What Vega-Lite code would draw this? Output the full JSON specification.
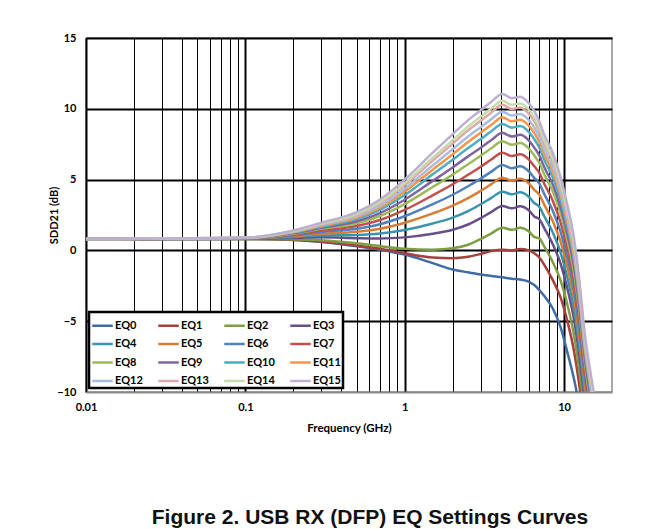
{
"$schema": "https://vega.github.io/schema/vega-lite/v6.json",
"width": 526, "height": 354,
"autosize": {"type": "none"},
"padding": {"left": 86, "top": 38, "right": 57, "bottom": 137},
"background": "white",
"config": {"view": {"stroke": "#8c8c8c", "strokeWidth": 1.5}, "font": "Lato"},
"title": {"text": "Figure 2. USB RX (DFP) EQ Settings Curves", "orient": "bottom", "font": "Liberation Sans", "fontSize": 21, "fontWeight": "bold", "color": "#111111", "offset": 73, "dx": 21, "anchor": "middle"},
"data": {"values": [
{"s":"EQ0","f":0.01,"v":0.8},{"s":"EQ0","f":0.1,"v":0.8},{"s":"EQ0","f":0.2,"v":0.74},{"s":"EQ0","f":0.3,"v":0.6},{"s":"EQ0","f":0.5,"v":0.3},{"s":"EQ0","f":0.7,"v":0.05},{"s":"EQ0","f":1,"v":-0.3},{"s":"EQ0","f":1.5,"v":-0.9},{"s":"EQ0","f":2,"v":-1.35},{"s":"EQ0","f":2.5,"v":-1.55},{"s":"EQ0","f":3,"v":-1.7},{"s":"EQ0","f":3.5,"v":-1.8},{"s":"EQ0","f":4.1,"v":-1.9},{"s":"EQ0","f":4.7,"v":-2.0},{"s":"EQ0","f":5.3,"v":-2.05},{"s":"EQ0","f":6,"v":-2.2},{"s":"EQ0","f":6.5,"v":-2.45},{"s":"EQ0","f":7,"v":-2.8},{"s":"EQ0","f":7.5,"v":-3.2},{"s":"EQ0","f":8.5,"v":-4.1},{"s":"EQ0","f":9.5,"v":-5.4},{"s":"EQ0","f":10.5,"v":-7.2},{"s":"EQ0","f":11.5,"v":-9.0},{"s":"EQ0","f":12.5,"v":-11},
{"s":"EQ1","f":0.01,"v":0.8},{"s":"EQ1","f":0.1,"v":0.8},{"s":"EQ1","f":0.2,"v":0.76},{"s":"EQ1","f":0.3,"v":0.62},{"s":"EQ1","f":0.5,"v":0.35},{"s":"EQ1","f":0.7,"v":0.12},{"s":"EQ1","f":1,"v":-0.2},{"s":"EQ1","f":1.5,"v":-0.5},{"s":"EQ1","f":2,"v":-0.55},{"s":"EQ1","f":2.5,"v":-0.45},{"s":"EQ1","f":3,"v":-0.25},{"s":"EQ1","f":3.5,"v":-0.05},{"s":"EQ1","f":4.1,"v":0.05},{"s":"EQ1","f":4.7,"v":0.0},{"s":"EQ1","f":5.3,"v":0.1},{"s":"EQ1","f":6,"v":0.0},{"s":"EQ1","f":6.5,"v":-0.2},{"s":"EQ1","f":7,"v":-0.5},{"s":"EQ1","f":7.5,"v":-1.0},{"s":"EQ1","f":8.5,"v":-2.1},{"s":"EQ1","f":9.5,"v":-3.3},{"s":"EQ1","f":10.5,"v":-5.0},{"s":"EQ1","f":11.5,"v":-7.0},{"s":"EQ1","f":12.5,"v":-9.6},{"s":"EQ1","f":13.5,"v":-12.5},
{"s":"EQ2","f":0.01,"v":0.8},{"s":"EQ2","f":0.1,"v":0.8},{"s":"EQ2","f":0.2,"v":0.78},{"s":"EQ2","f":0.3,"v":0.72},{"s":"EQ2","f":0.5,"v":0.5},{"s":"EQ2","f":0.7,"v":0.3},{"s":"EQ2","f":1,"v":0.12},{"s":"EQ2","f":1.5,"v":0.05},{"s":"EQ2","f":2,"v":0.15},{"s":"EQ2","f":2.5,"v":0.4},{"s":"EQ2","f":3,"v":0.8},{"s":"EQ2","f":3.5,"v":1.2},{"s":"EQ2","f":4.1,"v":1.6},{"s":"EQ2","f":4.7,"v":1.45},{"s":"EQ2","f":5.3,"v":1.6},{"s":"EQ2","f":6,"v":1.35},{"s":"EQ2","f":6.5,"v":0.95},{"s":"EQ2","f":7,"v":0.85},{"s":"EQ2","f":7.5,"v":0.3},{"s":"EQ2","f":8.5,"v":-0.83},{"s":"EQ2","f":9.5,"v":-2.1},{"s":"EQ2","f":10.5,"v":-3.84},{"s":"EQ2","f":11.5,"v":-5.87},{"s":"EQ2","f":12.5,"v":-8.56},{"s":"EQ2","f":13.5,"v":-11.57},
{"s":"EQ3","f":0.01,"v":0.8},{"s":"EQ3","f":0.1,"v":0.82},{"s":"EQ3","f":0.2,"v":0.88},{"s":"EQ3","f":0.3,"v":0.92},{"s":"EQ3","f":0.5,"v":0.86},{"s":"EQ3","f":0.7,"v":0.84},{"s":"EQ3","f":1,"v":0.92},{"s":"EQ3","f":1.5,"v":1.17},{"s":"EQ3","f":2,"v":1.46},{"s":"EQ3","f":2.5,"v":1.83},{"s":"EQ3","f":3,"v":2.28},{"s":"EQ3","f":3.5,"v":2.72},{"s":"EQ3","f":4.1,"v":3.14},{"s":"EQ3","f":4.7,"v":2.97},{"s":"EQ3","f":5.3,"v":3.11},{"s":"EQ3","f":6,"v":2.83},{"s":"EQ3","f":6.5,"v":2.4},{"s":"EQ3","f":7,"v":2.2},{"s":"EQ3","f":7.5,"v":1.59},{"s":"EQ3","f":8.5,"v":0.43},{"s":"EQ3","f":9.5,"v":-0.91},{"s":"EQ3","f":10.5,"v":-2.7},{"s":"EQ3","f":11.5,"v":-4.75},{"s":"EQ3","f":12.5,"v":-7.52},{"s":"EQ3","f":13.5,"v":-10.65},
{"s":"EQ4","f":0.01,"v":0.8},{"s":"EQ4","f":0.1,"v":0.83},{"s":"EQ4","f":0.2,"v":0.95},{"s":"EQ4","f":0.3,"v":1.05},{"s":"EQ4","f":0.5,"v":1.09},{"s":"EQ4","f":0.7,"v":1.19},{"s":"EQ4","f":1,"v":1.44},{"s":"EQ4","f":1.5,"v":1.9},{"s":"EQ4","f":2,"v":2.32},{"s":"EQ4","f":2.5,"v":2.78},{"s":"EQ4","f":3,"v":3.26},{"s":"EQ4","f":3.5,"v":3.71},{"s":"EQ4","f":4.1,"v":4.15},{"s":"EQ4","f":4.7,"v":3.96},{"s":"EQ4","f":5.3,"v":4.1},{"s":"EQ4","f":6,"v":3.79},{"s":"EQ4","f":6.5,"v":3.35},{"s":"EQ4","f":7,"v":3.08},{"s":"EQ4","f":7.5,"v":2.43},{"s":"EQ4","f":8.5,"v":1.26},{"s":"EQ4","f":9.5,"v":-0.13},{"s":"EQ4","f":10.5,"v":-1.94},{"s":"EQ4","f":11.5,"v":-4.02},{"s":"EQ4","f":12.5,"v":-6.84},{"s":"EQ4","f":13.5,"v":-10.04},{"s":"EQ4","f":14.5,"v":-12.5},
{"s":"EQ5","f":0.01,"v":0.8},{"s":"EQ5","f":0.1,"v":0.84},{"s":"EQ5","f":0.2,"v":1.01},{"s":"EQ5","f":0.3,"v":1.18},{"s":"EQ5","f":0.5,"v":1.32},{"s":"EQ5","f":0.7,"v":1.53},{"s":"EQ5","f":1,"v":1.95},{"s":"EQ5","f":1.5,"v":2.61},{"s":"EQ5","f":2,"v":3.16},{"s":"EQ5","f":2.5,"v":3.69},{"s":"EQ5","f":3,"v":4.2},{"s":"EQ5","f":3.5,"v":4.68},{"s":"EQ5","f":4.1,"v":5.13},{"s":"EQ5","f":4.7,"v":4.93},{"s":"EQ5","f":5.3,"v":5.06},{"s":"EQ5","f":6,"v":4.74},{"s":"EQ5","f":6.5,"v":4.28},{"s":"EQ5","f":7,"v":3.94},{"s":"EQ5","f":7.5,"v":3.25},{"s":"EQ5","f":8.5,"v":2.06},{"s":"EQ5","f":9.5,"v":0.63},{"s":"EQ5","f":10.5,"v":-1.21},{"s":"EQ5","f":11.5,"v":-3.3},{"s":"EQ5","f":12.5,"v":-6.18},{"s":"EQ5","f":13.5,"v":-9.45},{"s":"EQ5","f":14.5,"v":-11.9},
{"s":"EQ6","f":0.01,"v":0.8},{"s":"EQ6","f":0.1,"v":0.85},{"s":"EQ6","f":0.2,"v":1.07},{"s":"EQ6","f":0.3,"v":1.3},{"s":"EQ6","f":0.5,"v":1.53},{"s":"EQ6","f":0.7,"v":1.85},{"s":"EQ6","f":1,"v":2.41},{"s":"EQ6","f":1.5,"v":3.26},{"s":"EQ6","f":2,"v":3.93},{"s":"EQ6","f":2.5,"v":4.53},{"s":"EQ6","f":3,"v":5.07},{"s":"EQ6","f":3.5,"v":5.56},{"s":"EQ6","f":4.1,"v":6.03},{"s":"EQ6","f":4.7,"v":5.81},{"s":"EQ6","f":5.3,"v":5.94},{"s":"EQ6","f":6,"v":5.59},{"s":"EQ6","f":6.5,"v":5.12},{"s":"EQ6","f":7,"v":4.72},{"s":"EQ6","f":7.5,"v":4.0},{"s":"EQ6","f":8.5,"v":2.8},{"s":"EQ6","f":9.5,"v":1.32},{"s":"EQ6","f":10.5,"v":-0.54},{"s":"EQ6","f":11.5,"v":-2.65},{"s":"EQ6","f":12.5,"v":-5.57},{"s":"EQ6","f":13.5,"v":-8.91},{"s":"EQ6","f":14.5,"v":-11.36},
{"s":"EQ7","f":0.01,"v":0.8},{"s":"EQ7","f":0.1,"v":0.86},{"s":"EQ7","f":0.2,"v":1.13},{"s":"EQ7","f":0.3,"v":1.41},{"s":"EQ7","f":0.5,"v":1.73},{"s":"EQ7","f":0.7,"v":2.15},{"s":"EQ7","f":1,"v":2.86},{"s":"EQ7","f":1.5,"v":3.89},{"s":"EQ7","f":2,"v":4.67},{"s":"EQ7","f":2.5,"v":5.34},{"s":"EQ7","f":3,"v":5.91},{"s":"EQ7","f":3.5,"v":6.42},{"s":"EQ7","f":4.1,"v":6.9},{"s":"EQ7","f":4.7,"v":6.67},{"s":"EQ7","f":5.3,"v":6.79},{"s":"EQ7","f":6,"v":6.43},{"s":"EQ7","f":6.5,"v":5.94},{"s":"EQ7","f":7,"v":5.48},{"s":"EQ7","f":7.5,"v":4.73},{"s":"EQ7","f":8.5,"v":3.51},{"s":"EQ7","f":9.5,"v":2.0},{"s":"EQ7","f":10.5,"v":0.11},{"s":"EQ7","f":11.5,"v":-2.02},{"s":"EQ7","f":12.5,"v":-4.99},{"s":"EQ7","f":13.5,"v":-8.39},{"s":"EQ7","f":14.5,"v":-10.83},
{"s":"EQ8","f":0.01,"v":0.8},{"s":"EQ8","f":0.1,"v":0.87},{"s":"EQ8","f":0.2,"v":1.18},{"s":"EQ8","f":0.3,"v":1.52},{"s":"EQ8","f":0.5,"v":1.92},{"s":"EQ8","f":0.7,"v":2.43},{"s":"EQ8","f":1,"v":3.27},{"s":"EQ8","f":1.5,"v":4.48},{"s":"EQ8","f":2,"v":5.35},{"s":"EQ8","f":2.5,"v":6.09},{"s":"EQ8","f":3,"v":6.68},{"s":"EQ8","f":3.5,"v":7.21},{"s":"EQ8","f":4.1,"v":7.71},{"s":"EQ8","f":4.7,"v":7.46},{"s":"EQ8","f":5.3,"v":7.58},{"s":"EQ8","f":6,"v":7.2},{"s":"EQ8","f":6.5,"v":6.7},{"s":"EQ8","f":7,"v":6.17},{"s":"EQ8","f":7.5,"v":5.39},{"s":"EQ8","f":8.5,"v":4.16},{"s":"EQ8","f":9.5,"v":2.61},{"s":"EQ8","f":10.5,"v":0.7},{"s":"EQ8","f":11.5,"v":-1.44},{"s":"EQ8","f":12.5,"v":-4.46},{"s":"EQ8","f":13.5,"v":-7.91},{"s":"EQ8","f":14.5,"v":-10.34},
{"s":"EQ9","f":0.01,"v":0.8},{"s":"EQ9","f":0.1,"v":0.87},{"s":"EQ9","f":0.2,"v":1.22},{"s":"EQ9","f":0.3,"v":1.59},{"s":"EQ9","f":0.5,"v":2.06},{"s":"EQ9","f":0.7,"v":2.64},{"s":"EQ9","f":1,"v":3.58},{"s":"EQ9","f":1.5,"v":4.91},{"s":"EQ9","f":2,"v":5.86},{"s":"EQ9","f":2.5,"v":6.64},{"s":"EQ9","f":3,"v":7.25},{"s":"EQ9","f":3.5,"v":7.79},{"s":"EQ9","f":4.1,"v":8.3},{"s":"EQ9","f":4.7,"v":8.04},{"s":"EQ9","f":5.3,"v":8.16},{"s":"EQ9","f":6,"v":7.77},{"s":"EQ9","f":6.5,"v":7.26},{"s":"EQ9","f":7,"v":6.7},{"s":"EQ9","f":7.5,"v":5.9},{"s":"EQ9","f":8.5,"v":4.65},{"s":"EQ9","f":9.5,"v":3.08},{"s":"EQ9","f":10.5,"v":1.15},{"s":"EQ9","f":11.5,"v":-1.0},{"s":"EQ9","f":12.5,"v":-4.05},{"s":"EQ9","f":13.5,"v":-7.55},{"s":"EQ9","f":14.5,"v":-9.98},{"s":"EQ9","f":15.5,"v":-11.98},
{"s":"EQ10","f":0.01,"v":0.8},{"s":"EQ10","f":0.1,"v":0.88},{"s":"EQ10","f":0.2,"v":1.26},{"s":"EQ10","f":0.3,"v":1.67},{"s":"EQ10","f":0.5,"v":2.21},{"s":"EQ10","f":0.7,"v":2.86},{"s":"EQ10","f":1,"v":3.91},{"s":"EQ10","f":1.5,"v":5.37},{"s":"EQ10","f":2,"v":6.4},{"s":"EQ10","f":2.5,"v":7.23},{"s":"EQ10","f":3,"v":7.86},{"s":"EQ10","f":3.5,"v":8.42},{"s":"EQ10","f":4.1,"v":8.93},{"s":"EQ10","f":4.7,"v":8.67},{"s":"EQ10","f":5.3,"v":8.78},{"s":"EQ10","f":6,"v":8.37},{"s":"EQ10","f":6.5,"v":7.86},{"s":"EQ10","f":7,"v":7.25},{"s":"EQ10","f":7.5,"v":6.42},{"s":"EQ10","f":8.5,"v":5.16},{"s":"EQ10","f":9.5,"v":3.56},{"s":"EQ10","f":10.5,"v":1.62},{"s":"EQ10","f":11.5,"v":-0.54},{"s":"EQ10","f":12.5,"v":-3.63},{"s":"EQ10","f":13.5,"v":-7.17},{"s":"EQ10","f":14.5,"v":-9.59},{"s":"EQ10","f":15.5,"v":-11.59},
{"s":"EQ11","f":0.01,"v":0.8},{"s":"EQ11","f":0.1,"v":0.88},{"s":"EQ11","f":0.2,"v":1.29},{"s":"EQ11","f":0.3,"v":1.74},{"s":"EQ11","f":0.5,"v":2.32},{"s":"EQ11","f":0.7,"v":3.02},{"s":"EQ11","f":1,"v":4.15},{"s":"EQ11","f":1.5,"v":5.7},{"s":"EQ11","f":2,"v":6.79},{"s":"EQ11","f":2.5,"v":7.66},{"s":"EQ11","f":3,"v":8.31},{"s":"EQ11","f":3.5,"v":8.87},{"s":"EQ11","f":4.1,"v":9.4},{"s":"EQ11","f":4.7,"v":9.12},{"s":"EQ11","f":5.3,"v":9.23},{"s":"EQ11","f":6,"v":8.82},{"s":"EQ11","f":6.5,"v":8.29},{"s":"EQ11","f":7,"v":7.66},{"s":"EQ11","f":7.5,"v":6.82},{"s":"EQ11","f":8.5,"v":5.55},{"s":"EQ11","f":9.5,"v":3.93},{"s":"EQ11","f":10.5,"v":1.97},{"s":"EQ11","f":11.5,"v":-0.2},{"s":"EQ11","f":12.5,"v":-3.31},{"s":"EQ11","f":13.5,"v":-6.89},{"s":"EQ11","f":14.5,"v":-9.31},{"s":"EQ11","f":15.5,"v":-11.31},
{"s":"EQ12","f":0.01,"v":0.8},{"s":"EQ12","f":0.1,"v":0.89},{"s":"EQ12","f":0.2,"v":1.32},{"s":"EQ12","f":0.3,"v":1.79},{"s":"EQ12","f":0.5,"v":2.41},{"s":"EQ12","f":0.7,"v":3.16},{"s":"EQ12","f":1,"v":4.36},{"s":"EQ12","f":1.5,"v":6.0},{"s":"EQ12","f":2,"v":7.14},{"s":"EQ12","f":2.5,"v":8.04},{"s":"EQ12","f":3,"v":8.7},{"s":"EQ12","f":3.5,"v":9.27},{"s":"EQ12","f":4.1,"v":9.8},{"s":"EQ12","f":4.7,"v":9.52},{"s":"EQ12","f":5.3,"v":9.63},{"s":"EQ12","f":6,"v":9.21},{"s":"EQ12","f":6.5,"v":8.68},{"s":"EQ12","f":7,"v":8.01},{"s":"EQ12","f":7.5,"v":7.15},{"s":"EQ12","f":8.5,"v":5.87},{"s":"EQ12","f":9.5,"v":4.23},{"s":"EQ12","f":10.5,"v":2.27},{"s":"EQ12","f":11.5,"v":0.09},{"s":"EQ12","f":12.5,"v":-3.04},{"s":"EQ12","f":13.5,"v":-6.65},{"s":"EQ12","f":14.5,"v":-9.06},{"s":"EQ12","f":15.5,"v":-11.06},
{"s":"EQ13","f":0.01,"v":0.8},{"s":"EQ13","f":0.1,"v":0.89},{"s":"EQ13","f":0.2,"v":1.35},{"s":"EQ13","f":0.3,"v":1.85},{"s":"EQ13","f":0.5,"v":2.52},{"s":"EQ13","f":0.7,"v":3.33},{"s":"EQ13","f":1,"v":4.6},{"s":"EQ13","f":1.5,"v":6.34},{"s":"EQ13","f":2,"v":7.54},{"s":"EQ13","f":2.5,"v":8.48},{"s":"EQ13","f":3,"v":9.15},{"s":"EQ13","f":3.5,"v":9.74},{"s":"EQ13","f":4.1,"v":10.28},{"s":"EQ13","f":4.7,"v":9.99},{"s":"EQ13","f":5.3,"v":10.09},{"s":"EQ13","f":6,"v":9.66},{"s":"EQ13","f":6.5,"v":9.12},{"s":"EQ13","f":7,"v":8.42},{"s":"EQ13","f":7.5,"v":7.55},{"s":"EQ13","f":8.5,"v":6.26},{"s":"EQ13","f":9.5,"v":4.6},{"s":"EQ13","f":10.5,"v":2.62},{"s":"EQ13","f":11.5,"v":0.43},{"s":"EQ13","f":12.5,"v":-2.73},{"s":"EQ13","f":13.5,"v":-6.37},{"s":"EQ13","f":14.5,"v":-8.78},{"s":"EQ13","f":15.5,"v":-10.78},
{"s":"EQ14","f":0.01,"v":0.8},{"s":"EQ14","f":0.1,"v":0.9},{"s":"EQ14","f":0.2,"v":1.37},{"s":"EQ14","f":0.3,"v":1.89},{"s":"EQ14","f":0.5,"v":2.59},{"s":"EQ14","f":0.7,"v":3.43},{"s":"EQ14","f":1,"v":4.75},{"s":"EQ14","f":1.5,"v":6.55},{"s":"EQ14","f":2,"v":7.79},{"s":"EQ14","f":2.5,"v":8.75},{"s":"EQ14","f":3,"v":9.44},{"s":"EQ14","f":3.5,"v":10.03},{"s":"EQ14","f":4.1,"v":10.57},{"s":"EQ14","f":4.7,"v":10.28},{"s":"EQ14","f":5.3,"v":10.38},{"s":"EQ14","f":6,"v":9.94},{"s":"EQ14","f":6.5,"v":9.4},{"s":"EQ14","f":7,"v":8.69},{"s":"EQ14","f":7.5,"v":7.8},{"s":"EQ14","f":8.5,"v":6.51},{"s":"EQ14","f":9.5,"v":4.83},{"s":"EQ14","f":10.5,"v":2.85},{"s":"EQ14","f":11.5,"v":0.66},{"s":"EQ14","f":12.5,"v":-2.52},{"s":"EQ14","f":13.5,"v":-6.18},{"s":"EQ14","f":14.5,"v":-8.59},{"s":"EQ14","f":15.5,"v":-10.59},
{"s":"EQ15","f":0.01,"v":0.8},{"s":"EQ15","f":0.1,"v":0.9},{"s":"EQ15","f":0.2,"v":1.4},{"s":"EQ15","f":0.3,"v":1.95},{"s":"EQ15","f":0.5,"v":2.7},{"s":"EQ15","f":0.7,"v":3.6},{"s":"EQ15","f":1,"v":5.0},{"s":"EQ15","f":1.5,"v":6.9},{"s":"EQ15","f":2,"v":8.2},{"s":"EQ15","f":2.5,"v":9.2},{"s":"EQ15","f":3,"v":9.9},{"s":"EQ15","f":3.5,"v":10.5},{"s":"EQ15","f":4.1,"v":11.05},{"s":"EQ15","f":4.7,"v":10.75},{"s":"EQ15","f":5.3,"v":10.85},{"s":"EQ15","f":6,"v":10.4},{"s":"EQ15","f":6.5,"v":9.85},{"s":"EQ15","f":7,"v":9.1},{"s":"EQ15","f":7.5,"v":8.2},{"s":"EQ15","f":8.5,"v":6.9},{"s":"EQ15","f":9.5,"v":5.2},{"s":"EQ15","f":10.5,"v":3.2},{"s":"EQ15","f":11.5,"v":1.0},{"s":"EQ15","f":12.5,"v":-2.2},{"s":"EQ15","f":13.5,"v":-5.9},{"s":"EQ15","f":14.5,"v":-8.3},{"s":"EQ15","f":15.5,"v":-10.3},{"s":"EQ15","f":16.5,"v":-12}
]},
"mark": {"type": "line", "interpolate": "monotone", "strokeWidth": 2.5, "clip": true},
"encoding": {
"x": {"field": "f", "type": "quantitative",
 "scale": {"type": "log", "domain": [0.01, 20], "nice": false},
 "axis": {"title": "Frequency (GHz)",
  "values": [0.01,0.02,0.03,0.04,0.05,0.06,0.07,0.08,0.09,0.1,0.2,0.3,0.4,0.5,0.6,0.7,0.8,0.9,1,2,3,4,5,6,7,8,9,10],
  "format": "~g",
  "labelExpr": "(datum.value==0.01||datum.value==0.1||datum.value==1||datum.value==10)?datum.label:''",
  "labelOverlap": false, "labelFlush": false,
  "ticks": false, "domain": false, "grid": true, "gridColor": "#000000",
  "gridWidth": {"condition": {"test": "datum.value==0.01||datum.value==0.1||datum.value==1||datum.value==10", "value": 2}, "value": 1},
  "labelFont": "Lato", "labelFontWeight": "bold", "labelFontSize": 11, "labelColor": "#000000", "labelPadding": 9,
  "titleFont": "Lato", "titleFontWeight": "bold", "titleFontSize": 11.5, "titleColor": "#000000", "titlePadding": 10}},
"y": {"field": "v", "type": "quantitative",
 "scale": {"domain": [-10, 15], "nice": false},
 "axis": {"title": "SDD21 (dB)", "values": [-10,-5,0,5,10,15],
  "ticks": false, "domain": false, "grid": true,
  "gridColor": {"condition": {"test": "datum.value==-10", "value": "#8c8c8c"}, "value": "#000000"},
  "gridWidth": 2,
  "labelFont": "Lato", "labelFontWeight": "bold", "labelFontSize": 11, "labelColor": "#000000", "labelPadding": 10,
  "titleFont": "Lato", "titleFontWeight": "bold", "titleFontSize": 11, "titleColor": "#000000", "titlePadding": -3}},
"color": {"field": "s", "type": "nominal",
 "scale": {"domain": ["EQ0","EQ1","EQ2","EQ3","EQ4","EQ5","EQ6","EQ7","EQ8","EQ9","EQ10","EQ11","EQ12","EQ13","EQ14","EQ15"],
  "range": ["#3F6CA6","#A6403C","#7E9E43","#674F8A","#3A94AE","#DA7C32","#4F81BD","#C0504D","#9BBB59","#8064A2","#4BACC6","#F79646","#A7BDE0","#DDA9A8","#C7DBAA","#BCAFD2"]},
 "legend": {"orient": "none", "legendX": 3, "legendY": 274, "columns": 4, "direction": "horizontal", "title": null,
  "symbolType": "stroke", "symbolSize": 420, "symbolStrokeWidth": 2.5,
  "labelFont": "Lato", "labelFontWeight": "bold", "labelFontSize": 11, "labelColor": "#000000", "labelOffset": 1,
  "columnPadding": 10, "rowPadding": 1.5, "padding": 2, "gridAlign": "all",
  "strokeColor": "#000000", "fillColor": "#ffffff",
  "encode": {"legend": {"update": {"strokeWidth": {"value": 2.5}}}}}}
}
}
